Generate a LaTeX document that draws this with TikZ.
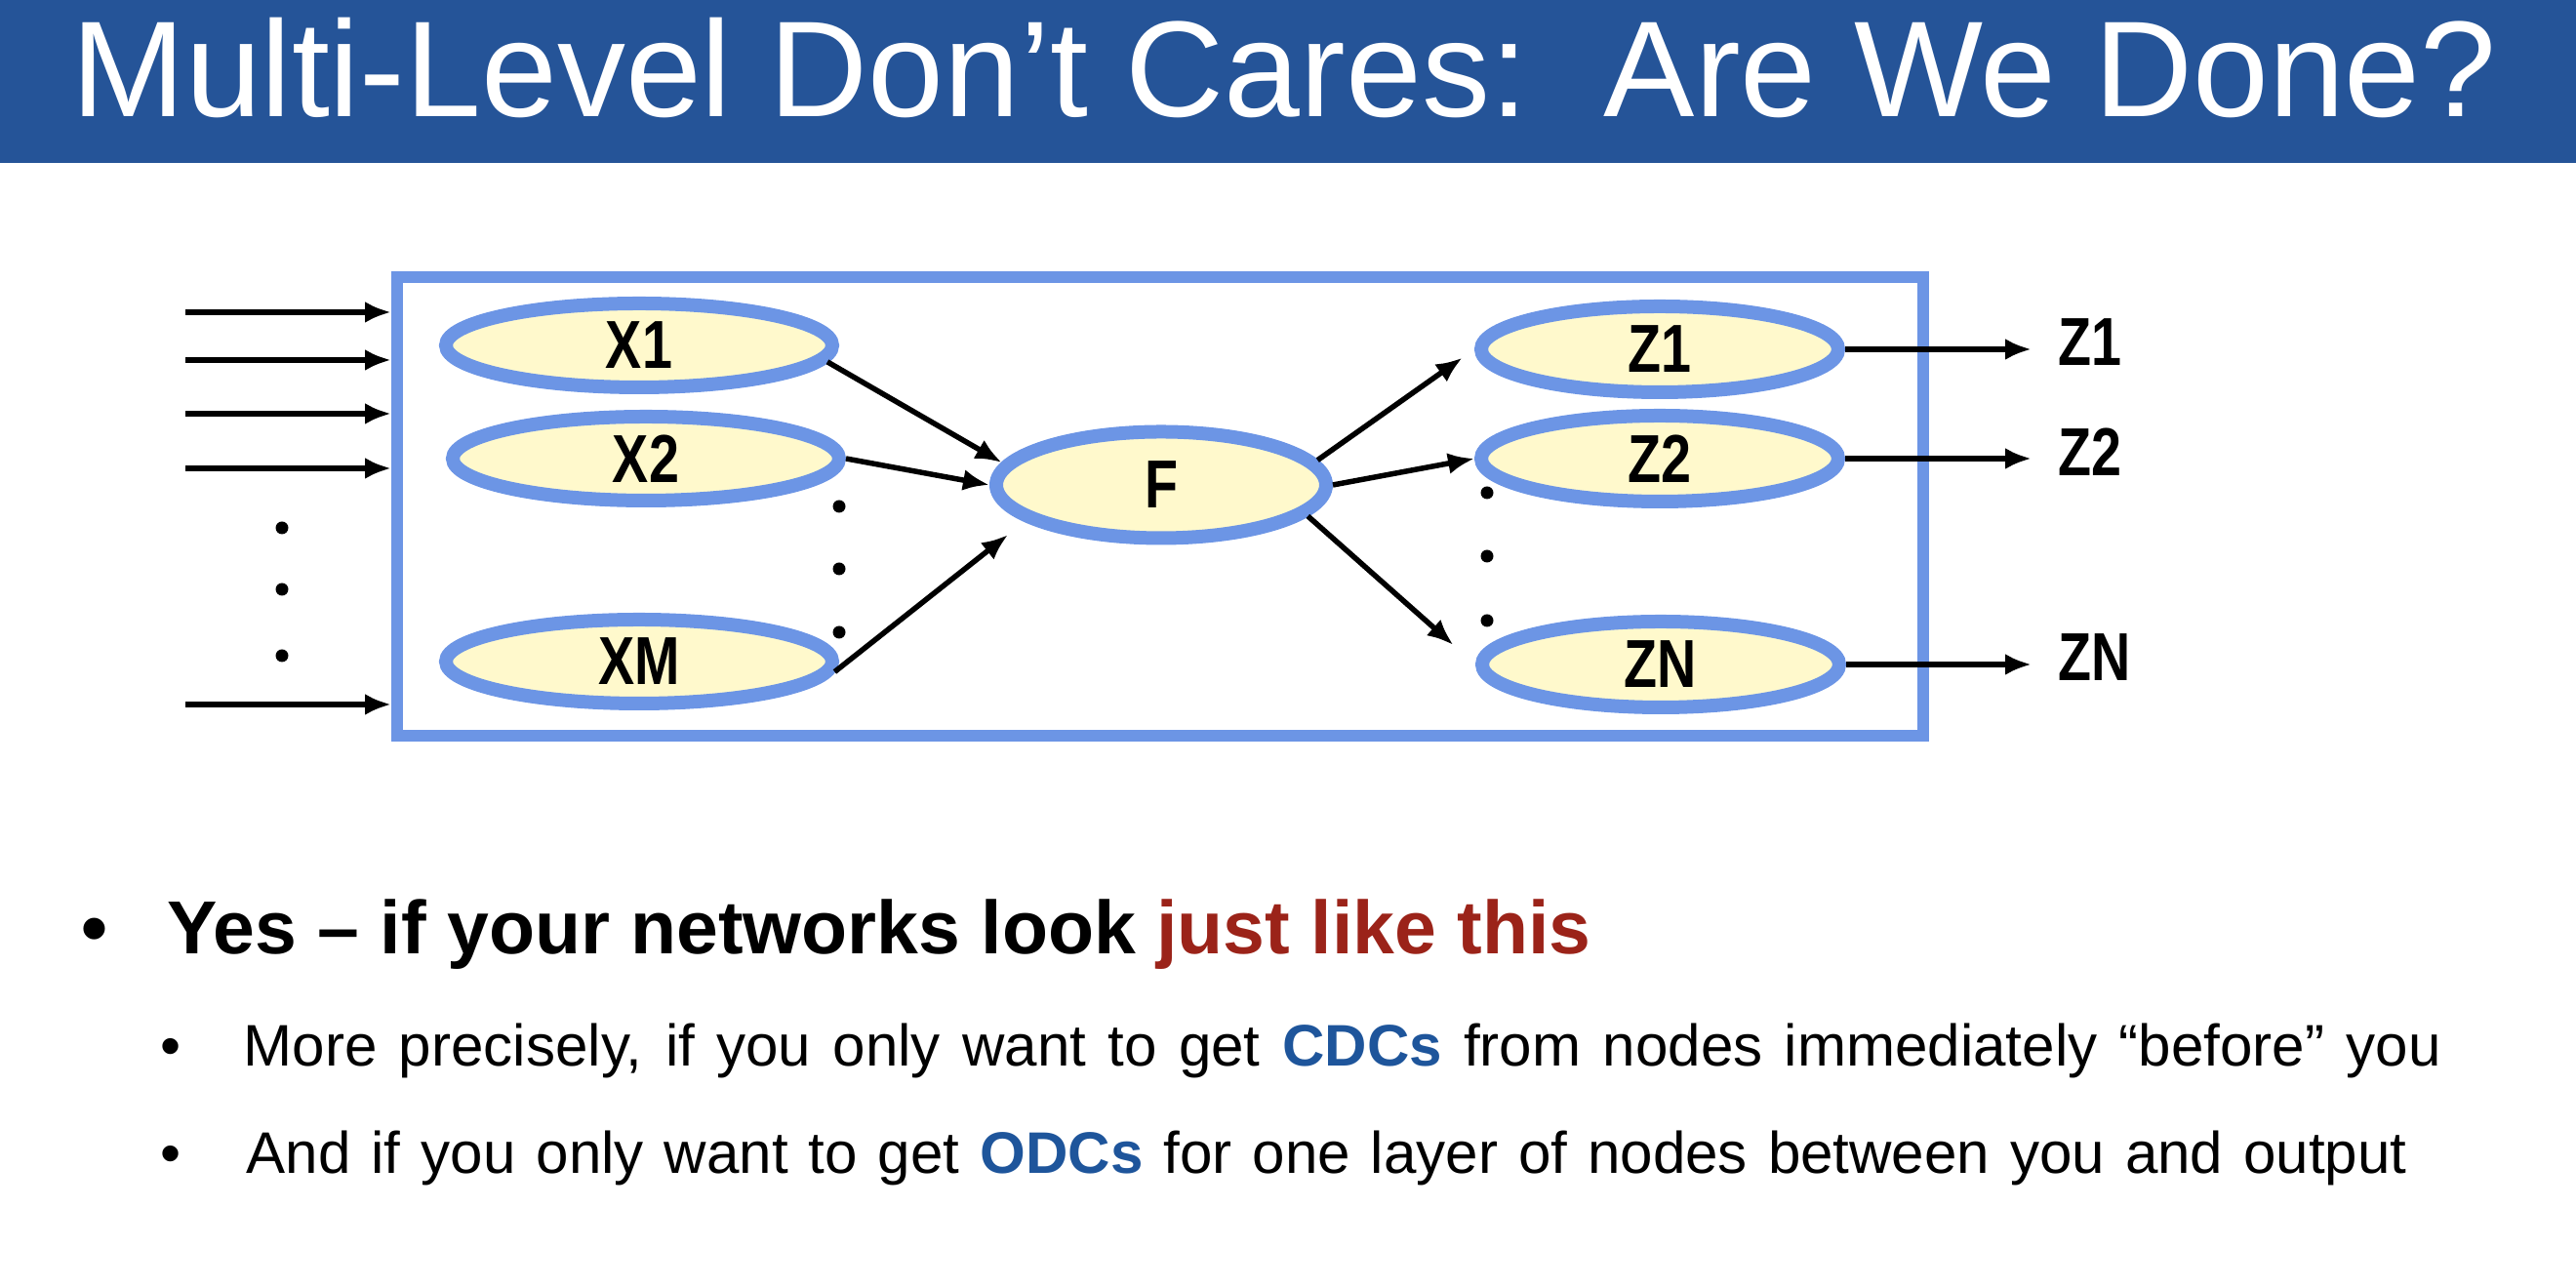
\documentclass[tikz,border=0pt]{standalone}
\usepackage{fontspec}
\setmainfont{Liberation Sans}
\usepackage{graphicx}
\usetikzlibrary{arrows.meta,shapes.geometric,positioning}
\definecolor{barra}{RGB}{37,84,152}
\definecolor{rete}{RGB}{108,149,229}
\definecolor{giallo}{RGB}{255,249,204}
\definecolor{rosso}{RGB}{155,35,25}
\definecolor{blu}{RGB}{30,85,155}
\newcommand{\etich}[1]{\scalebox{0.8}[1]{#1}}
\newcommand{\titolofont}{\fontsize{39.8}{46}\selectfont}
\newcommand{\puntofont}{\bfseries\fontsize{21.9}{26}\selectfont}
\newcommand{\subfont}{\fontsize{17.1}{20}\selectfont}
\newcommand{\labfont}{\bfseries\fontsize{19.8}{23}\selectfont}

\begin{document}
\begin{tikzpicture}[>={Latex[length=0.27cm,width=0.22cm]},
	dot/.style = {fill,circle,inner sep=0pt,minimum size=0.13cm},
	cella/.style = {draw=rete,fill=giallo,ellipse,line width=0.14cm,inner sep=0pt,font=\labfont},
	xnode/.style = {cella,minimum width=3.96cm,minimum height=0.86cm},
	znode/.style = {cella,minimum width=3.66cm,minimum height=0.88cm},
	fnode/.style = {cella,minimum width=3.38cm,minimum height=1.09cm},
	freccia/.style = {->,line width=0.055cm},
	testo/.style = {anchor=base west,inner sep=0pt}
	]
	\useasboundingbox (0,0) rectangle (26.4,13.2);
	%TITOLO
	\fill[barra] (0,11.53) rectangle (26.4,13.2);
	\node[testo,text=white,font=\titolofont] (tit) at (0.73,12.00) {Multi-Level Don’t Cares:\ \ Are We Done?};
	%RETE
	\node[draw=rete,line width=0.12cm,minimum width=15.64cm,minimum height=4.70cm,inner sep=0pt] (rete) at (11.89,8.01) {};
	\node[xnode] (X1) at (6.55,9.66) {\etich{X1}};
	\node[xnode] (X2) at (6.62,8.50) {\etich{X2}};
	\node[xnode] (XM) at (6.55,6.42) {\etich{XM}};
	\node[fnode] (F) at (11.90,8.23) {\etich{F}};
	\node[znode] (Z1) at (17.01,9.62) {\etich{Z1}};
	\node[znode] (Z2) at (17.01,8.50) {\etich{Z2}};
	\node[znode] (ZN) at (17.02,6.39) {\etich{ZN}};
	%INGRESSI
	\foreach \y [count=\i] in {10.00,9.51,8.96,8.40,5.98} {
		\coordinate (in\i) at (1.90,\y);
		\draw[->,line width=0.065cm] (in\i) -- (in\i -| rete.west);
	}
	%PUNTINI
	\foreach \y [count=\i] in {7.79,7.16,6.48} \node[dot] (pa\i) at (2.89,\y) {};
	\foreach \y [count=\i] in {8.01,7.37,6.72} \node[dot] (pb\i) at (8.60,\y) {};
	\foreach \y [count=\i] in {8.15,7.50,6.84} \node[dot] (pc\i) at (15.24,\y) {};
	%ARCHI
	\draw[freccia] (X1.-5) -- (F.172);
	\draw[freccia] (X2.east) -- (F.west);
	\draw[freccia,shorten >=0.22cm] (XM.-3) -- (F.195);
	\draw[freccia,shorten >=0.15cm] (F.9) -- (Z1.west);
	\draw[freccia] (F.east) -- (Z2.west);
	\draw[freccia,shorten >=0.3cm] (F.-12) -- (ZN.west);
	%USCITE
	\coordinate (uscita) at (20.82,0);
	\foreach \z in {Z1,Z2,ZN}
		\draw[->,line width=0.06cm] (\z.east) -- (\z.east -| uscita) node[right=0.24cm,yshift=0.07cm,inner sep=0pt,font=\labfont] (lab\z) {\etich{\z}};
	%PUNTI ELENCO
	\node[testo,font=\puntofont] (b1) at (0.83,3.42) {•};
	\node[testo,font=\puntofont] (t1) at (1.71,3.42) {Yes – if your networks look \textcolor{rosso}{just like this}};
	\node[testo,font=\subfont] (b2) at (1.64,2.27) {•};
	\node[testo,font=\subfont] (t2) at (2.49,2.27) {\makebox[22.52cm][s]{More precisely, if you only want to get \textbf{\textcolor{blu}{CDCs}} from nodes immediately “before” you}};
	\node[testo,font=\subfont] (b3) at (1.64,1.17) {•};
	\node[testo,font=\subfont] (t3) at (2.52,1.17) {\makebox[22.14cm][s]{And if you only want to get \textbf{\textcolor{blu}{ODCs}} for one layer of nodes between you and output}};
\end{tikzpicture}
\end{document}
